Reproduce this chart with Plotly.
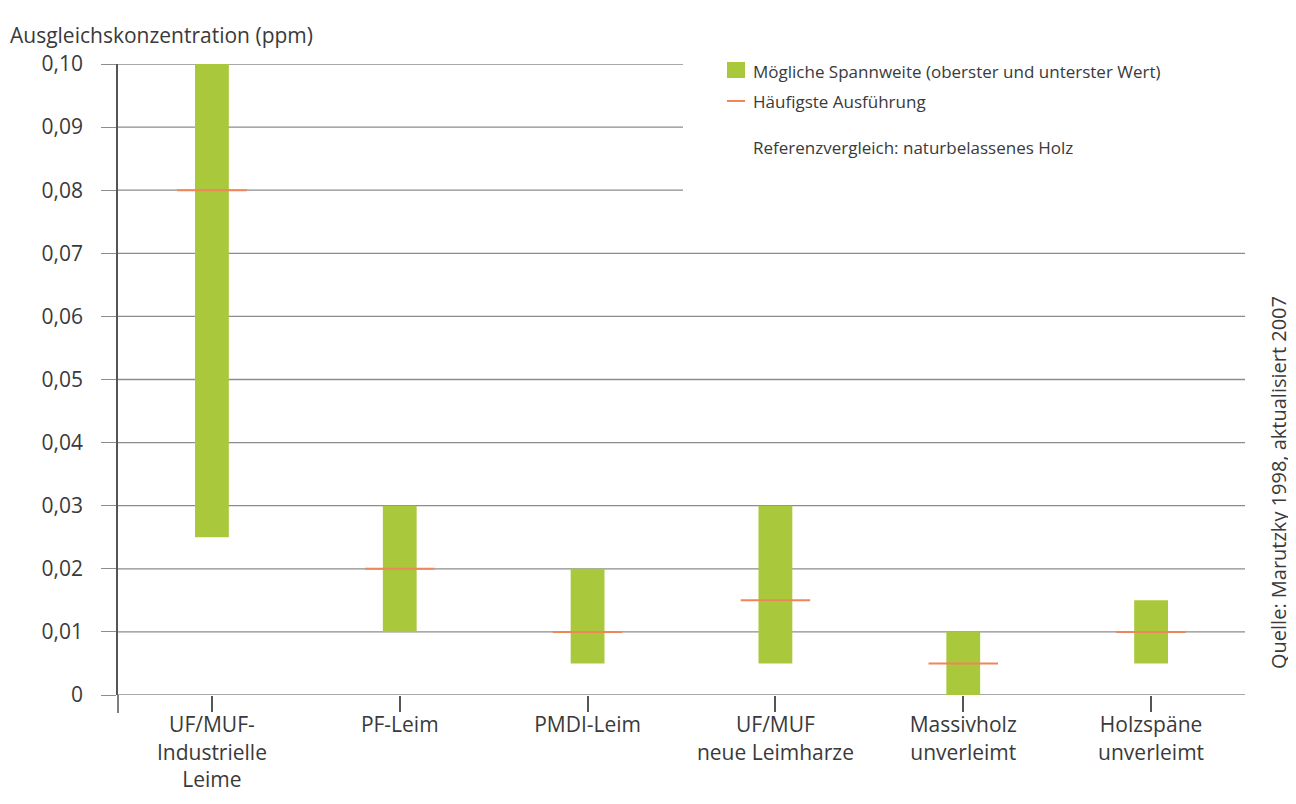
import plotly.graph_objects as go

categories = ["UF/MUF-<br>Industrielle<br>Leime", "PF-Leim", "PMDI-Leim",
              "UF/MUF<br>neue Leimharze", "Massivholz<br>unverleimt", "Holzspäne<br>unverleimt"]
range_low = [0.025, 0.010, 0.005, 0.005, 0.000, 0.005]
range_high = [0.100, 0.030, 0.020, 0.030, 0.010, 0.015]
most_common = [0.080, 0.020, 0.010, 0.015, 0.005, 0.010]
ytick_vals = [0, 0.01, 0.02, 0.03, 0.04, 0.05, 0.06, 0.07, 0.08, 0.09, 0.10]
ytick_text = ["0", "0,01", "0,02", "0,03", "0,04", "0,05", "0,06", "0,07", "0,08", "0,09", "0,10"]

GREEN = "#a9c83c"
ORANGE = "#ef8658"
GRID = "#8c8c8c"
AXIS = "#555555"
TXT = "#3a3a3a"
FONT = "Open Sans"

idx = list(range(len(categories)))
BAR_W = 0.18
SEG_HALF = 0.185

# page body has an 8px margin: the figure is drawn from (8, 8)
OFF = 8
W, H = 1296 - OFF, 804 - OFF
L = 118 - OFF
T = 64 - OFF
R = W - (1245 - OFF)
B = H - (695 - OFF)
pw, ph = W - L - R, H - T - B


def px(xp):
    return (xp - OFF - L) / pw


def py(yp):
    return (H - B - (yp - OFF)) / ph


fig = go.Figure()
fig.add_trace(go.Bar(
    x=idx, y=[h - l for h, l in zip(range_high, range_low)], base=range_low,
    width=BAR_W, marker=dict(color=GREEN, line=dict(width=0)),
    name="Mögliche Spannweite (oberster und unterster Wert)", showlegend=False,
    hoverinfo="skip"))

seg_x, seg_y = [], []
for i, v in zip(idx, most_common):
    seg_x += [i - SEG_HALF, i + SEG_HALF, None]
    seg_y += [v, v, None]
fig.add_trace(go.Scatter(
    x=seg_x, y=seg_y, mode="lines", line=dict(color=ORANGE, width=2),
    name="Häufigste Ausführung", showlegend=False, hoverinfo="skip"))

shapes = []
# horizontal grid lines; the upper ones stop where the legend starts
legend_left = px(683)
for v in ytick_vals:
    shapes.append(dict(type="line", xref="paper", yref="y", x0=0,
                       x1=1 if v < 0.075 else legend_left, y0=v, y1=v,
                       line=dict(color=GRID, width=1.3), layer="below"))
shapes += [
    dict(type="rect", xref="paper", yref="paper", x0=px(727), x1=px(745),
         y0=py(78), y1=py(62), fillcolor=GREEN, line=dict(width=0)),
    dict(type="line", xref="paper", yref="paper", x0=px(727), x1=px(745),
         y0=py(101), y1=py(101), line=dict(color=ORANGE, width=2)),
    # y axis continues a little below zero
    dict(type="line", xref="paper", yref="paper", x0=0, x1=0,
         y0=py(713), y1=0, line=dict(color=AXIS, width=1.5)),
]

annotations = [
    dict(text="Ausgleichskonzentration (ppm)", xref="paper", yref="paper",
         x=px(8), y=py(35), xanchor="left", yanchor="middle", showarrow=False,
         font=dict(family=FONT, size=21, color=TXT)),
    dict(text="Mögliche Spannweite (oberster und unterster Wert)", xref="paper", yref="paper",
         x=px(751), y=py(71), xanchor="left", yanchor="middle", showarrow=False,
         font=dict(family=FONT, size=17, color=TXT)),
    dict(text="Häufigste Ausführung", xref="paper", yref="paper",
         x=px(751), y=py(101), xanchor="left", yanchor="middle", showarrow=False,
         font=dict(family=FONT, size=17, color=TXT)),
    dict(text="Referenzvergleich: naturbelassenes Holz", xref="paper", yref="paper",
         x=px(751), y=py(147), xanchor="left", yanchor="middle", showarrow=False,
         font=dict(family=FONT, size=17, color=TXT)),
    dict(text="Quelle: Marutzky 1998, aktualisiert 2007", xref="paper", yref="paper",
         x=px(1278), y=py(483), xanchor="center", yanchor="middle", showarrow=False,
         textangle=-90, font=dict(family=FONT, size=20, color=TXT)),
]

fig.update_layout(
    width=W, height=H,
    margin=dict(l=L, r=R, t=T, b=B, pad=0, autoexpand=False),
    paper_bgcolor="white", plot_bgcolor="white",
    font=dict(family=FONT, color=TXT),
    showlegend=False,
    shapes=shapes, annotations=annotations,
    xaxis=dict(range=[-0.5, 5.5], tickmode="array", tickvals=idx, ticktext=categories,
               ticks="outside", ticklen=16, tickwidth=1.5, tickcolor=AXIS,
               ticklabelstandoff=-5, automargin=False,
               showgrid=False, zeroline=False, showline=False,
               tickfont=dict(family=FONT, size=21, color=TXT), fixedrange=True),
    yaxis=dict(range=[0, 0.1], tickmode="array", tickvals=ytick_vals, ticktext=ytick_text,
               ticks="outside", ticklen=15, tickwidth=1.3, tickcolor=GRID,
               showgrid=False, zeroline=False, showline=True, linecolor=AXIS, linewidth=1.5,
               ticklabelstandoff=14, automargin=False,
               tickfont=dict(family=FONT, size=21, color=TXT), fixedrange=True),
)

fig.write_html("out.html")
